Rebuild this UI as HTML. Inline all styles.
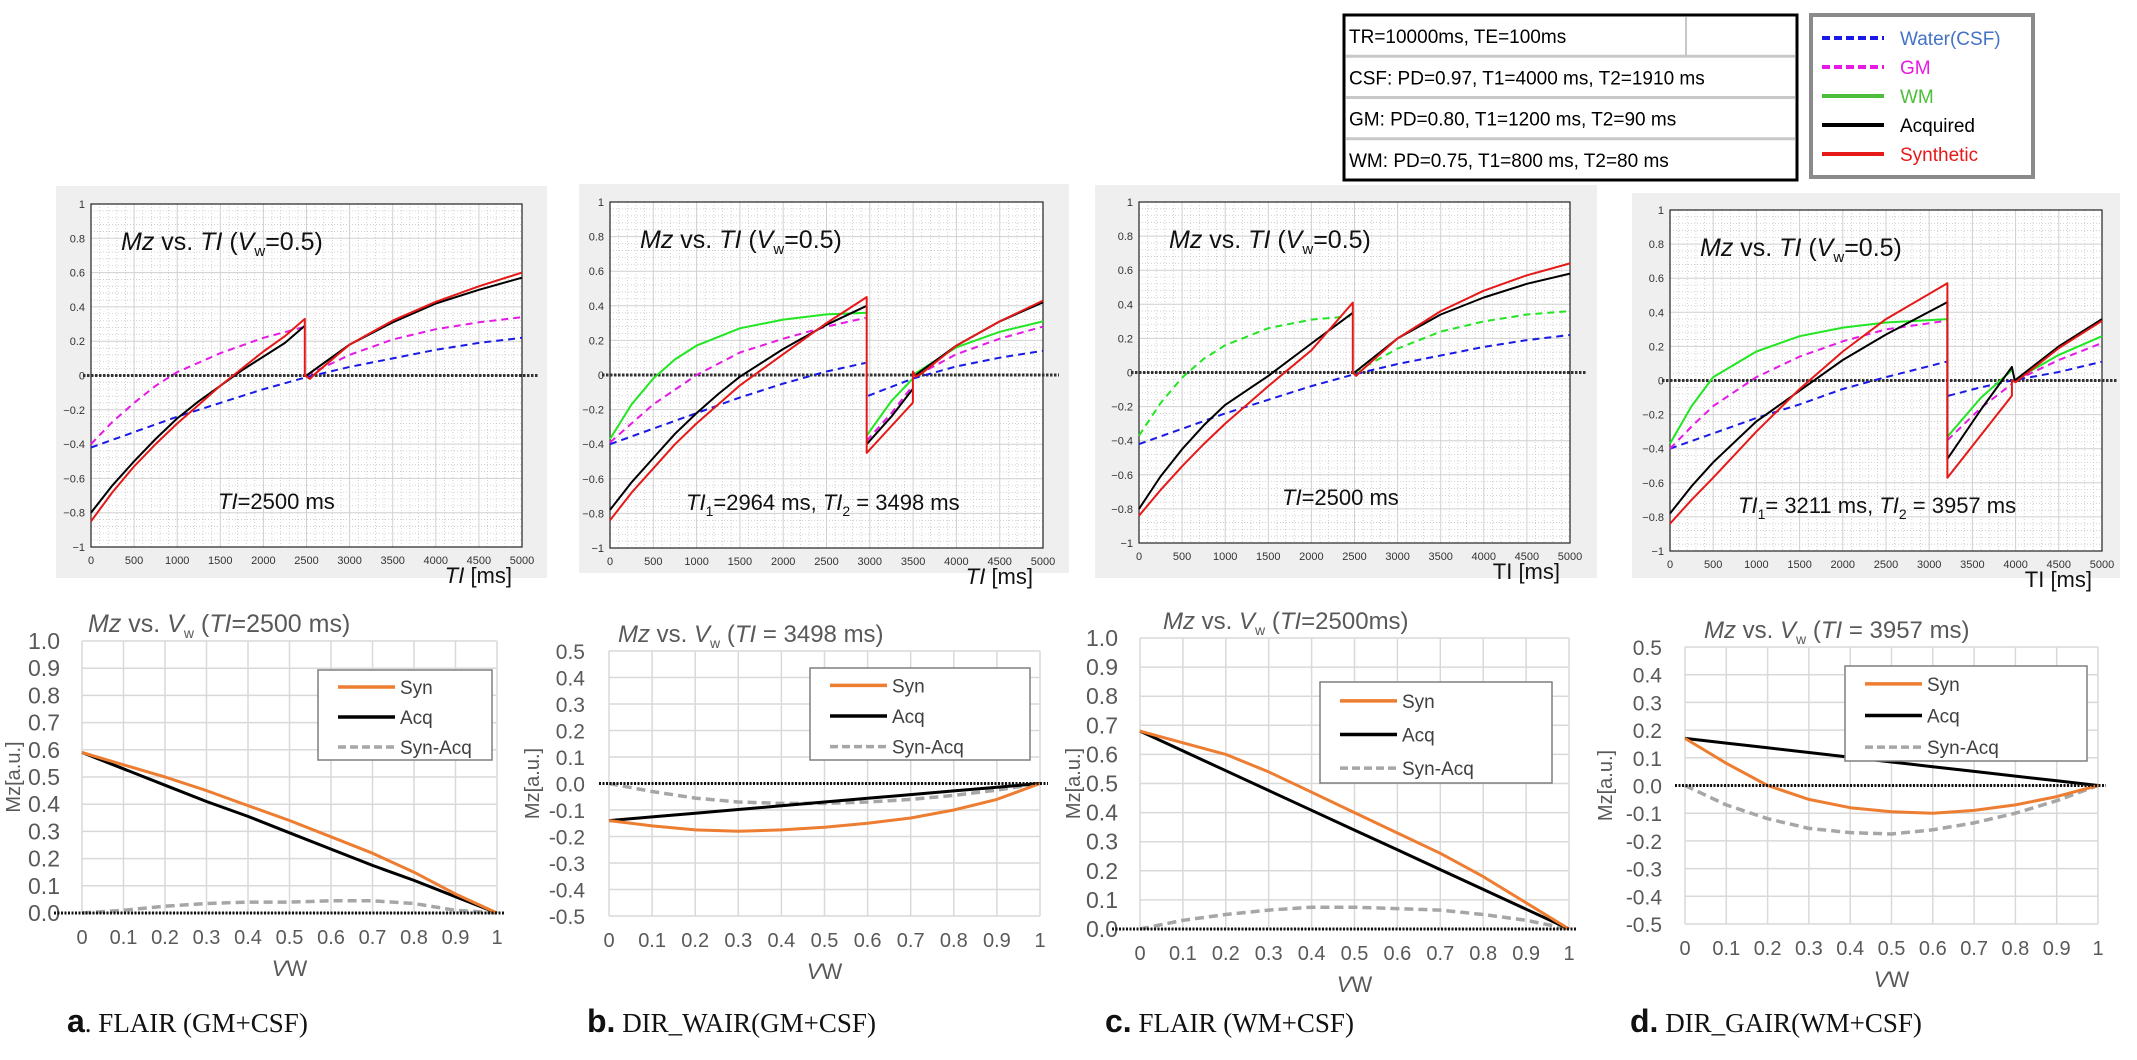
<!DOCTYPE html>
<html><head><meta charset="utf-8"><style>
body{margin:0;background:#fff;}
svg{display:block;font-family:"Liberation Sans",Arial,sans-serif;}
</style></head><body>
<svg id="fig" width="2137" height="1060" viewBox="0 0 2137 1060"></svg>
<script>
// ---------- top panel data: [TI ms, Mz], null = discontinuity ----------
const tiTicks = [0,500,1000,1500,2000,2500,3000,3500,4000,4500,5000];
const mzTicks = [-1,-0.8,-0.6,-0.4,-0.2,0,0.2,0.4,0.6,0.8,1];

const aWater = [[0,-0.42],[500,-0.33],[1000,-0.24],[1500,-0.16],[2000,-0.08],[2500,-0.01],[3000,0.05],[3500,0.10],[4000,0.15],[4500,0.19],[5000,0.22]];
const aGM = [[0,-0.40],[250,-0.27],[500,-0.16],[750,-0.06],[1000,0.02],[1500,0.13],[2000,0.22],[2450,0.28],null,[2500,0.0],[3000,0.12],[3500,0.21],[4000,0.27],[4500,0.31],[5000,0.34]];
const aAcq = [[0,-0.80],[250,-0.64],[500,-0.50],[750,-0.37],[1000,-0.25],[1250,-0.15],[1500,-0.06],[1750,0.03],[2000,0.11],[2250,0.19],[2480,0.29],null,[2500,0.0],[3000,0.18],[3500,0.31],[4000,0.42],[4500,0.50],[5000,0.57]];
const aSyn = [[0,-0.85],[250,-0.68],[500,-0.53],[750,-0.40],[1000,-0.28],[1250,-0.17],[1500,-0.06],[1750,0.04],[2000,0.14],[2250,0.23],[2480,0.33],[2480,0.0],[2540,-0.02],[2600,0.01],[3000,0.18],[3500,0.32],[4000,0.43],[4500,0.52],[5000,0.60]];

const bWater = [[0,-0.40],[500,-0.31],[1000,-0.22],[1500,-0.13],[2000,-0.05],[2500,0.02],[2950,0.07],null,[2980,-0.12],[3500,-0.02],[4000,0.05],[4500,0.10],[5000,0.14]];
const bGM = [[0,-0.39],[250,-0.28],[500,-0.17],[1000,0.0],[1500,0.13],[2000,0.21],[2500,0.28],[2950,0.33],null,[2964,-0.38],[3250,-0.22],[3498,-0.06],null,[3550,0.0],[4000,0.12],[4500,0.21],[5000,0.28]];
const bWM = [[0,-0.37],[250,-0.17],[500,-0.02],[750,0.09],[1000,0.17],[1500,0.27],[2000,0.32],[2500,0.35],[2964,0.36],null,[2964,-0.35],[3250,-0.15],[3498,-0.02],null,[3498,0.0],[4000,0.16],[4500,0.25],[5000,0.31]];
const bAcq = [[0,-0.78],[250,-0.62],[500,-0.48],[750,-0.34],[1000,-0.22],[1250,-0.11],[1500,-0.01],[2000,0.15],[2500,0.29],[2964,0.40],null,[2964,-0.40],[3250,-0.24],[3498,-0.08],null,[3530,0.0],[4000,0.17],[4500,0.31],[5000,0.42]];
const bSyn = [[0,-0.84],[250,-0.68],[500,-0.54],[750,-0.40],[1000,-0.28],[1250,-0.17],[1500,-0.06],[2000,0.12],[2500,0.30],[2964,0.45],[2964,-0.45],[3498,-0.16],[3498,0.02],[3530,-0.01],[3600,0.01],[4000,0.17],[4500,0.31],[5000,0.43]];

const cWater = aWater;
const cWM = [[0,-0.37],[250,-0.18],[500,-0.03],[750,0.08],[1000,0.16],[1500,0.26],[2000,0.31],[2450,0.33],null,[2500,0.0],[3000,0.14],[3500,0.24],[4000,0.30],[4500,0.34],[5000,0.36]];
const cAcq = [[0,-0.80],[250,-0.61],[500,-0.45],[750,-0.31],[1000,-0.19],[1500,-0.02],[2000,0.17],[2480,0.35],null,[2500,0.0],[3000,0.20],[3500,0.34],[4000,0.44],[4500,0.52],[5000,0.58]];
const cSyn = [[0,-0.84],[250,-0.69],[500,-0.55],[750,-0.42],[1000,-0.30],[1500,-0.08],[2000,0.13],[2480,0.41],[2480,0.0],[2520,-0.02],[2600,0.02],[3000,0.20],[3500,0.36],[4000,0.48],[4500,0.57],[5000,0.64]];

const dWater = [[0,-0.40],[500,-0.31],[1000,-0.22],[1500,-0.14],[2000,-0.05],[2500,0.02],[3200,0.11],null,[3220,-0.09],[3600,-0.04],[3957,0.0],[4500,0.05],[5000,0.11]];
const dGM = [[0,-0.40],[250,-0.27],[500,-0.15],[1000,0.02],[1500,0.14],[2000,0.23],[2500,0.30],[3200,0.35],null,[3211,-0.35],[3600,-0.16],[3957,-0.02],null,[4000,0.0],[4500,0.12],[5000,0.22]];
const dWM = [[0,-0.37],[250,-0.15],[500,0.02],[1000,0.17],[1500,0.26],[2000,0.31],[2500,0.34],[3211,0.36],null,[3211,-0.33],[3600,-0.10],[3957,0.06],null,[3980,0.0],[4500,0.15],[5000,0.26]];
const dAcq = [[0,-0.78],[250,-0.62],[500,-0.48],[1000,-0.24],[1500,-0.06],[2000,0.12],[2500,0.27],[3211,0.46],[3211,-0.46],[3600,-0.17],[3957,0.08],[3990,0.0],[4500,0.20],[5000,0.36]];
const dSyn = [[0,-0.84],[250,-0.70],[500,-0.57],[1000,-0.30],[1500,-0.05],[2000,0.17],[2500,0.36],[3211,0.57],[3211,-0.57],[3957,-0.09],[3957,0.0],[4000,-0.01],[4500,0.19],[5000,0.35]];

// ---------- bottom panel data ----------
const vwCats = [0,0.1,0.2,0.3,0.4,0.5,0.6,0.7,0.8,0.9,1];
const aSynVw = [0.59,0.545,0.5,0.45,0.395,0.34,0.28,0.22,0.15,0.07,0];
const aAcqVw = [0.59,0.53,0.47,0.41,0.355,0.295,0.235,0.175,0.12,0.06,0];
const aDifVw = [0,0.01,0.025,0.035,0.04,0.04,0.045,0.045,0.035,0.01,0];
const bSynVw = [-0.14,-0.16,-0.175,-0.18,-0.175,-0.165,-0.15,-0.13,-0.1,-0.06,0];
const bAcqVw = [-0.14,-0.126,-0.112,-0.098,-0.084,-0.07,-0.056,-0.042,-0.028,-0.014,0];
const bDifVw = [0,-0.03,-0.055,-0.07,-0.075,-0.075,-0.07,-0.06,-0.045,-0.025,0];
const cSynVw = [0.68,0.64,0.6,0.54,0.47,0.4,0.33,0.26,0.18,0.09,0];
const cAcqVw = [0.68,0.612,0.544,0.476,0.408,0.34,0.272,0.204,0.136,0.068,0];
const cDifVw = [0,0.03,0.05,0.065,0.075,0.075,0.07,0.065,0.05,0.03,0];
const dSynVw = [0.17,0.08,0.0,-0.05,-0.08,-0.095,-0.1,-0.09,-0.07,-0.04,0];
const dAcqVw = [0.17,0.153,0.136,0.119,0.102,0.085,0.068,0.051,0.034,0.017,0];
const dDifVw = [0,-0.07,-0.12,-0.155,-0.17,-0.175,-0.16,-0.135,-0.1,-0.055,0];
const posTicks = [0,0.1,0.2,0.3,0.4,0.5,0.6,0.7,0.8,0.9,1.0];
const symTicks = [-0.5,-0.4,-0.3,-0.2,-0.1,0,0.1,0.2,0.3,0.4,0.5];

const NS="http://www.w3.org/2000/svg";
const svg=document.getElementById('fig');
function mk(tag,attrs,parent){const e=document.createElementNS(NS,tag);for(const k in attrs)e.setAttribute(k,attrs[k]);(parent||svg).appendChild(e);return e;}
function txt(s,attrs,parent){const e=mk('text',attrs,parent);e.innerHTML=s;return e;}

function topPanel(p){
  const g=mk('g',{});
  
  
  const bg=mk('rect',{x:p.gx,y:p.gy,width:p.gw,height:p.gh,fill:'#efefef'},g);
  
  
  const L=p.x0,R=p.x1,T=p.y0,B=p.y1;
  const sx=v=>L+(v/5000)*(R-L), sy=v=>T+(1-v)/2*(B-T);
  mk('rect',{x:L,y:T,width:R-L,height:B-T,fill:'#fff'},g);
  for(let t=100;t<5000;t+=100){if(t%500)mk('line',{x1:sx(t),x2:sx(t),y1:T,y2:B,stroke:'#c8c8c8','stroke-width':0.8,'stroke-dasharray':'1,2'},g);}
  for(let k=-25;k<=25;k++){const v=k*0.04;if(Math.abs(v*5-Math.round(v*5))>1e-6)mk('line',{x1:L,x2:R,y1:sy(v),y2:sy(v),stroke:'#c8c8c8','stroke-width':0.8,'stroke-dasharray':'1,2'},g);}
  tiTicks.forEach(t=>{mk('line',{x1:sx(t),x2:sx(t),y1:T,y2:B,stroke:'#d0d0d0','stroke-width':1},g);
    const tl=txt(t,{x:sx(t),y:B+17,'font-size':11,'text-anchor':'middle',fill:'#333'},g);
    });
  mzTicks.forEach(v=>{mk('line',{x1:L,x2:R,y1:sy(v),y2:sy(v),stroke:'#d0d0d0','stroke-width':1},g);
    const tl=txt(String(v).replace('-','\u2212'),{x:L-6,y:sy(v)+4,'font-size':11,'text-anchor':'end',fill:'#333'},g);
    });
  mk('rect',{x:L,y:T,width:R-L,height:B-T,fill:'none',stroke:'#222','stroke-width':1.2},g);
  const zl=mk('line',{x1:L-8,x2:R+16,y1:sy(0),y2:sy(0),stroke:'#333','stroke-width':3,'stroke-dasharray':'2.5,1.5'},g);
  
  p.series.forEach(s=>{
    let d='',pen=false;
    s.data.forEach(pt=>{if(!pt){pen=false;return;}d+=(pen?'L':'M')+sx(pt[0]).toFixed(1)+','+sy(pt[1]).toFixed(1);pen=true;});
    const path=mk('path',{d:d,fill:'none',stroke:s.color,'stroke-width':2,'stroke-linejoin':'round','stroke-dasharray':s.dash?'7,5':'none'},g);
    
    
  });
  const tt=txt('<tspan font-style="italic">Mz</tspan> vs. <tspan font-style="italic">TI</tspan> (<tspan font-style="italic">V</tspan><tspan font-size="15" dy="6">w</tspan><tspan dy="-6">=0.5)</tspan>',{x:L+30,y:T+46,'font-size':25,fill:'#111'},g);
  
  const an=txt(p.note,{x:p.noteX,y:B-38,'font-size':22,fill:'#111'},g);
  
  const xl=txt(p.xlab,{x:R-10,y:B+36,'font-size':22,'text-anchor':'end',fill:'#111'},g);
  
}
const TIit='<tspan font-style="italic">TI</tspan> [ms]';
topPanel({name:'panel-a-mz-vs-ti',gx:56,gy:186,gw:491,gh:392,x0:91,x1:522,y0:204,y1:547,noteX:218,
  note:'<tspan font-style="italic">TI</tspan>=2500 ms',xlab:TIit,
  series:[{name:'water-csf-line',data:aWater,color:'#1a1ae6',dash:1},{name:'gm-line',data:aGM,color:'#e619e6',dash:1},{name:'acquired-line',data:aAcq,color:'#000'},{name:'synthetic-line',data:aSyn,color:'#e61919'}]});
topPanel({name:'panel-b-mz-vs-ti',gx:579,gy:184,gw:490,gh:389,x0:610,x1:1043,y0:202,y1:548,noteX:686,
  note:'<tspan font-style="italic">TI</tspan><tspan font-size="14" dy="6">1</tspan><tspan dy="-6">=2964 ms, </tspan><tspan font-style="italic">TI</tspan><tspan font-size="14" dy="6">2</tspan><tspan dy="-6"> = 3498 ms</tspan>',xlab:TIit,
  series:[{name:'water-csf-line',data:bWater,color:'#1a1ae6',dash:1},{name:'gm-line',data:bGM,color:'#e619e6',dash:1},{name:'wm-line',data:bWM,color:'#22e622'},{name:'acquired-line',data:bAcq,color:'#000'},{name:'synthetic-line',data:bSyn,color:'#e61919'}]});
topPanel({name:'panel-c-mz-vs-ti',gx:1095,gy:185,gw:502,gh:393,x0:1139,x1:1570,y0:202,y1:543,noteX:1282,
  note:'<tspan font-style="italic">TI</tspan>=2500 ms',xlab:'TI [ms]',
  series:[{name:'water-csf-line',data:cWater,color:'#1a1ae6',dash:1},{name:'wm-line',data:cWM,color:'#22e622',dash:1},{name:'acquired-line',data:cAcq,color:'#000'},{name:'synthetic-line',data:cSyn,color:'#e61919'}]});
topPanel({name:'panel-d-mz-vs-ti',gx:1632,gy:193,gw:488,gh:385,x0:1670,x1:2102,y0:210,y1:551,noteX:1738,
  note:'<tspan font-style="italic">TI</tspan><tspan font-size="14" dy="6">1</tspan><tspan dy="-6">= 3211 ms, </tspan><tspan font-style="italic">TI</tspan><tspan font-size="14" dy="6">2</tspan><tspan dy="-6"> = 3957 ms</tspan>',xlab:'TI [ms]',
  series:[{name:'water-csf-line',data:dWater,color:'#1a1ae6',dash:1},{name:'gm-line',data:dGM,color:'#e619e6',dash:1},{name:'wm-line',data:dWM,color:'#22e622'},{name:'acquired-line',data:dAcq,color:'#000'},{name:'synthetic-line',data:dSyn,color:'#e61919'}]});

function botPanel(p){
  const g=mk('g',{});
  
  
  const L=p.x0,R=p.x1,T=p.y0,B=p.y1,lo=p.ticks[0],hi=p.ticks[p.ticks.length-1];
  const sx=v=>L+v*(R-L), sy=v=>B-(v-lo)/(hi-lo)*(B-T);
  vwCats.forEach(v=>{mk('line',{x1:sx(v),x2:sx(v),y1:T,y2:B,stroke:'#d9d9d9','stroke-width':1.5},g);
    const tl=txt(String(v),{x:sx(v),y:B+31,'font-size':20,'text-anchor':'middle',fill:'#595959'},g);
    });
  p.ticks.forEach(v=>{mk('line',{x1:L,x2:R,y1:sy(v),y2:sy(v),stroke:'#d9d9d9','stroke-width':1.5},g);
    const tl=txt(v.toFixed(1),{x:L-p.tickGap,y:sy(v)+8,'font-size':p.tickFs,'text-anchor':'end',fill:'#595959'},g);
    });
  const line=(vals,color,w,dash,name)=>{const d=vals.map((v,i)=>(i?'L':'M')+sx(vwCats[i]).toFixed(1)+','+sy(v).toFixed(1)).join('');
    const e=mk('path',{d:d,fill:'none',stroke:color,'stroke-width':w,'stroke-linejoin':'round','stroke-dasharray':dash||'none'},g);
    };
  line(p.dif,'#a6a6a6',3.5,'9,5','syn-minus-acq-line');
  line(p.acq,'#000',3,null,'acq-line');
  line(p.syn,'#ed7d31',3,null,'syn-line');
  const zl=mk('line',{x1:L-p.zext,x2:R+8,y1:sy(0),y2:sy(0),stroke:'#111','stroke-width':3,'stroke-dasharray':'2,1.5'},g);
  
  const tt=txt('<tspan font-style="italic">Mz</tspan> vs. <tspan font-style="italic">V</tspan><tspan font-size="14" dy="6">w</tspan><tspan dy="-6"> (</tspan><tspan font-style="italic">TI</tspan>'+p.title,{x:p.titleX,y:T-9,'font-size':p.titleFs,fill:'#595959'},g);
  
  const yl=txt('Mz[a.u.]',{x:0,y:0,'font-size':20,fill:'#595959','text-anchor':'middle',transform:'translate('+(p.ylabX)+','+((T+B)/2)+') rotate(-90)'},g);
  
  const xl=txt('<tspan font-style="italic">V</tspan>W',{x:(L+R)/2,y:B+63,'font-size':22,'text-anchor':'middle',fill:'#595959'},g);
  
  const lg=mk('g',{},g);
  
  mk('rect',{x:p.lx,y:p.ly,width:p.lw,height:p.lh,fill:'#fff',stroke:'#7f7f7f','stroke-width':1.5},lg);
  const items=[['Syn','#ed7d31',null],['Acq','#000',null],['Syn-Acq','#a6a6a6','8,4']];
  items.forEach((it,i)=>{const yy=p.ly+p.lh*(i+0.5)/3+2;
    mk('line',{x1:p.lx+20,x2:p.lx+77,y1:yy,y2:yy,stroke:it[1],'stroke-width':3.5,'stroke-dasharray':it[2]||'none'},lg);
    const e=txt(it[0],{x:p.lx+82,y:yy+7,'font-size':19,fill:'#404040'},lg);
    });
}
botPanel({name:'chart-a-mz-vs-vw',x0:82,x1:497,y0:641,y1:913,ticks:posTicks,tickFs:23,tickGap:22,zext:28,syn:aSynVw,acq:aAcqVw,dif:aDifVw,
  title:'=2500 ms)',titleX:88,titleFs:25,ylabX:20,lx:318,ly:670,lw:174,lh:90});
botPanel({name:'chart-b-mz-vs-vw',x0:609,x1:1040,y0:651,y1:916,ticks:symTicks,tickFs:21,tickGap:24,zext:10,syn:bSynVw,acq:bAcqVw,dif:bDifVw,
  title:' = 3498 ms)',titleX:618,titleFs:24,ylabX:539,lx:810,ly:668,lw:220,lh:92});
botPanel({name:'chart-c-mz-vs-vw',x0:1140,x1:1569,y0:638,y1:929,ticks:posTicks,tickFs:23,tickGap:22,zext:28,syn:cSynVw,acq:cAcqVw,dif:cDifVw,
  title:'=2500ms)',titleX:1163,titleFs:24,ylabX:1080,lx:1320,ly:682,lw:232,lh:101});
botPanel({name:'chart-d-mz-vs-vw',x0:1685,x1:2098,y0:647,y1:924,ticks:symTicks,tickFs:21,tickGap:23,zext:10,syn:dSynVw,acq:dAcqVw,dif:dDifVw,
  title:' = 3957 ms)',titleX:1704,titleFs:24,ylabX:1612,lx:1845,ly:666,lw:242,lh:95});

// captions
[['a','. FLAIR (GM+CSF)',57,'caption-a'],['b.',' DIR_WAIR(GM+CSF)',577,'caption-b'],['c.',' FLAIR (WM+CSF)',1095,'caption-c'],['d.',' DIR_GAIR(WM+CSF)',1620,'caption-d']].forEach(c=>{
  const e=txt('<tspan font-weight="bold" font-family="Liberation Sans, sans-serif" font-size="32">'+c[0]+'</tspan>'+c[1],{x:c[2]+10,y:1032,'font-size':27,'font-family':'Liberation Serif, serif',fill:'#111'});
  
  
});

// parameter table
const tg=mk('g',{});


mk('rect',{x:1344,y:15,width:453,height:165,fill:'#fff',stroke:'#000','stroke-width':3},tg);
const rows=['TR=10000ms, TE=100ms','CSF: PD=0.97, T1=4000 ms, T2=1910 ms','GM: PD=0.80, T1=1200 ms, T2=90 ms','WM: PD=0.75, T1=800 ms, T2=80 ms'];
rows.forEach((r,i)=>{const y0=15+i*41.25;
  if(i>0)mk('line',{x1:1346,x2:1795,y1:y0,y2:y0,stroke:'#c8c8c8','stroke-width':3},tg);
  const e=txt(r,{x:1349,y:y0+28,'font-size':19,fill:'#000'},tg);
  });
mk('line',{x1:1686,x2:1686,y1:17,y2:55,stroke:'#c8c8c8','stroke-width':2},tg);

// top legend
const lg=mk('g',{});


mk('rect',{x:1811,y:15,width:222,height:162,fill:'#fff',stroke:'#8a8a8a','stroke-width':4},lg);
[['Water(CSF)','#1a1ae6','#4472c4',1],['GM','#e619e6','#e619e6',1],['WM','#4cbf3a','#4cbf3a',0],['Acquired','#000','#000',0],['Synthetic','#e61919','#e61919',0]].forEach((it,i)=>{
  const yy=38+i*29;
  mk('line',{x1:1822,x2:1884,y1:yy,y2:yy,stroke:it[1],'stroke-width':4,'stroke-dasharray':it[3]?'8,4':'none'},lg);
  const e=txt(it[0],{x:1900,y:yy+7,'font-size':19,fill:it[2]},lg);
  
});
</script>
</body></html>
